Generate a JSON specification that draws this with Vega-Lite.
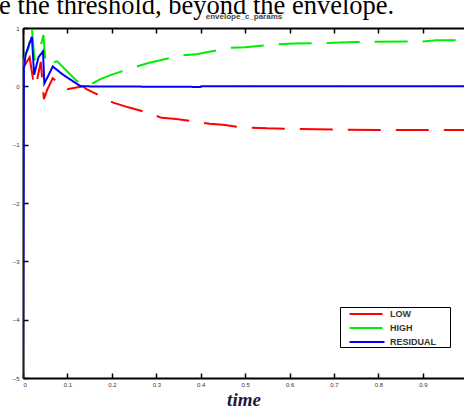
{
  "$schema": "https://vega.github.io/schema/vega-lite/v6.json",
  "width": 441,
  "height": 350,
  "autosize": {"type": "none"},
  "padding": {"left": 23, "top": 28, "right": 0, "bottom": 31},
  "background": "white",
  "title": {
    "text": "e the threshold, beyond the envelope.",
    "anchor": "start",
    "frame": "group",
    "dx": -24,
    "dy": 28,
    "offset": 0,
    "font": "Liberation Serif",
    "fontSize": 26.5,
    "fontWeight": "normal",
    "color": "black",
    "baseline": "alphabetic"
  },
  "data": {
    "values": [
      {"t": 0, "v": 0.22, "s": "HIGH"},
      {"t": 0.004, "v": 0.5, "s": "HIGH"},
      {"t": 0.012, "v": 0.65, "s": "HIGH"},
      {"t": 0.02, "v": 1.0, "s": "HIGH"},
      {"t": 0.026, "v": 0.45, "s": "HIGH"},
      {"t": 0.04, "v": 0.7, "s": "HIGH"},
      {"t": 0.046, "v": 0.88, "s": "HIGH"},
      {"t": 0.051, "v": 0.37, "s": "HIGH"},
      {"t": 0.06, "v": 0.4, "s": "HIGH"},
      {"t": 0.077, "v": 0.43, "s": "HIGH"},
      {"t": 0.1, "v": 0.25, "s": "HIGH"},
      {"t": 0.12, "v": 0.1, "s": "HIGH"},
      {"t": 0.135, "v": 0.03, "s": "HIGH"},
      {"t": 0.15, "v": 0.02, "s": "HIGH"},
      {"t": 0.173, "v": 0.12, "s": "HIGH"},
      {"t": 0.2, "v": 0.2, "s": "HIGH"},
      {"t": 0.248, "v": 0.32, "s": "HIGH"},
      {"t": 0.282, "v": 0.4, "s": "HIGH"},
      {"t": 0.357, "v": 0.53, "s": "HIGH"},
      {"t": 0.39, "v": 0.55, "s": "HIGH"},
      {"t": 0.465, "v": 0.66, "s": "HIGH"},
      {"t": 0.5, "v": 0.67, "s": "HIGH"},
      {"t": 0.57, "v": 0.72, "s": "HIGH"},
      {"t": 0.61, "v": 0.735, "s": "HIGH"},
      {"t": 0.68, "v": 0.74, "s": "HIGH"},
      {"t": 0.75, "v": 0.76, "s": "HIGH"},
      {"t": 0.9, "v": 0.77, "s": "HIGH"},
      {"t": 0.93, "v": 0.79, "s": "HIGH"},
      {"t": 0.995, "v": 0.79, "s": "HIGH"},
      {"t": 0.003, "v": 0.35, "s": "LOW"},
      {"t": 0.015, "v": 0.5, "s": "LOW"},
      {"t": 0.02, "v": 0.25, "s": "LOW"},
      {"t": 0.025, "v": 0.0, "s": "LOW"},
      {"t": 0.03, "v": 0.05, "s": "LOW"},
      {"t": 0.04, "v": 0.42, "s": "LOW"},
      {"t": 0.047, "v": -0.22, "s": "LOW"},
      {"t": 0.055, "v": -0.05, "s": "LOW"},
      {"t": 0.067, "v": 0.14, "s": "LOW"},
      {"t": 0.08, "v": 0.05, "s": "LOW"},
      {"t": 0.1, "v": -0.05, "s": "LOW"},
      {"t": 0.12, "v": -0.02, "s": "LOW"},
      {"t": 0.135, "v": 0.0, "s": "LOW"},
      {"t": 0.143, "v": -0.05, "s": "LOW"},
      {"t": 0.17, "v": -0.15, "s": "LOW"},
      {"t": 0.203, "v": -0.28, "s": "LOW"},
      {"t": 0.237, "v": -0.36, "s": "LOW"},
      {"t": 0.28, "v": -0.45, "s": "LOW"},
      {"t": 0.312, "v": -0.54, "s": "LOW"},
      {"t": 0.345, "v": -0.56, "s": "LOW"},
      {"t": 0.42, "v": -0.64, "s": "LOW"},
      {"t": 0.45, "v": -0.66, "s": "LOW"},
      {"t": 0.49, "v": -0.7, "s": "LOW"},
      {"t": 0.55, "v": -0.72, "s": "LOW"},
      {"t": 0.7, "v": -0.74, "s": "LOW"},
      {"t": 0.8, "v": -0.75, "s": "LOW"},
      {"t": 0.995, "v": -0.75, "s": "LOW"},
      {"t": 0, "v": -5, "s": "RESIDUAL"},
      {"t": 0.002, "v": 0.3, "s": "RESIDUAL"},
      {"t": 0.006, "v": 0.55, "s": "RESIDUAL"},
      {"t": 0.02, "v": 0.85, "s": "RESIDUAL"},
      {"t": 0.025, "v": 0.2, "s": "RESIDUAL"},
      {"t": 0.035, "v": 0.5, "s": "RESIDUAL"},
      {"t": 0.045, "v": 0.6, "s": "RESIDUAL"},
      {"t": 0.048, "v": 0.05, "s": "RESIDUAL"},
      {"t": 0.058, "v": 0.2, "s": "RESIDUAL"},
      {"t": 0.067, "v": 0.34, "s": "RESIDUAL"},
      {"t": 0.09, "v": 0.2, "s": "RESIDUAL"},
      {"t": 0.13, "v": 0.0, "s": "RESIDUAL"},
      {"t": 0.4, "v": -0.01, "s": "RESIDUAL"},
      {"t": 0.401, "v": 0.0, "s": "RESIDUAL"},
      {"t": 0.995, "v": 0.0, "s": "RESIDUAL"}
    ]
  },
  "layer": [
    {
      "mark": {"type": "line", "strokeWidth": 2, "strokeOpacity": 0},
      "encoding": {
        "x": {
          "field": "t",
          "type": "quantitative",
          "scale": {"domain": [0, 0.9925], "nice": false, "zero": false},
          "axis": {
            "orient": "top",
            "values": [0, 0.1, 0.2, 0.3, 0.4, 0.5, 0.6, 0.7, 0.8, 0.9],
            "labels": false,
            "title": "envelope_c_params",
            "titleFont": "Liberation Sans",
            "titleFontSize": 8,
            "titleFontWeight": "bold",
            "titleColor": "#444",
            "titlePadding": 7,
            "tickSize": -5,
            "tickColor": "black",
            "tickWidth": 1.5,
            "domainColor": "black",
            "domainWidth": 2,
            "grid": false
          }
        },
        "y": {"field": "v", "type": "quantitative", "scale": {"domain": [-5, 1], "nice": false, "zero": false}},
        "detail": {"field": "s"}
      }
    },
    {
      "mark": {"type": "line", "strokeWidth": 2, "clip": true},
      "encoding": {
        "x": {
          "field": "t",
          "type": "quantitative",
          "scale": {"domain": [0, 0.9925], "nice": false, "zero": false},
          "axis": {
            "orient": "bottom",
            "values": [0, 0.1, 0.2, 0.3, 0.4, 0.5, 0.6, 0.7, 0.8, 0.9],
            "format": "~g",
            "title": "time",
            "titleFont": "Liberation Serif",
            "titleFontStyle": "italic",
            "titleFontWeight": "bold",
            "titleFontSize": 19,
            "titleColor": "#1a1a40",
            "titlePadding": 3,
            "labelFontSize": 6,
            "labelPadding": 8,
            "labelColor": "#333",
            "tickSize": -5,
            "tickColor": "black",
            "tickWidth": 1.5,
            "domainColor": "black",
            "domainWidth": 2,
            "grid": false
          }
        },
        "y": {
          "field": "v",
          "type": "quantitative",
          "scale": {"domain": [-5, 1], "nice": false, "zero": false},
          "axis": {
            "values": [-5, -4, -3, -2, -1, 0, 1],
            "format": "d",
            "title": null,
            "labelFontSize": 6,
            "labelPadding": 9,
            "labelColor": "#333",
            "tickSize": -5,
            "tickColor": "black",
            "tickWidth": 1.5,
            "domainColor": "black",
            "domainWidth": 2,
            "grid": false
          }
        },
        "color": {
          "field": "s",
          "type": "nominal",
          "scale": {"domain": ["LOW", "HIGH", "RESIDUAL"], "range": ["#ff0000", "#00ee00", "#0000ff"]},
          "legend": {
            "title": " ",
            "titleOrient": "right",
            "titlePadding": 14,
            "titleFontSize": 6,
            "orient": "none",
            "legendX": 317,
            "legendY": 279,
            "direction": "vertical",
            "symbolType": "M-3,0H3",
            "symbolSize": 136,
            "symbolOffset": 20,
            "symbolStrokeWidth": 2,
            "labelFontSize": 9,
            "labelFont": "Liberation Sans",
            "labelFontWeight": "bold",
            "labelColor": "#333",
            "labelOffset": 16,
            "rowPadding": 2,
            "padding": 0,
            "strokeColor": "black",
            "fillColor": "white"
          }
        },
        "strokeDash": {
          "field": "s",
          "type": "nominal",
          "scale": {"domain": ["LOW", "HIGH", "RESIDUAL"], "range": [[33, 15], [33, 15], [1, 0]]},
          "legend": null
        }
      }
    }
  ],
  "resolve": {"axis": {"x": "independent"}},
  "config": {
    "view": {"stroke": null}
  }
}
